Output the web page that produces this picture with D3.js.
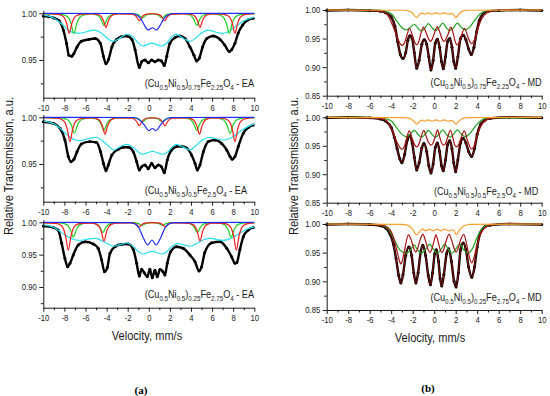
<!DOCTYPE html>
<html>
<head>
<meta charset="utf-8">
<script src="https://cdn.jsdelivr.net/npm/d3@7"></script>
<style>
  body { margin: 0; background: #fff; }
  svg { display: block; }
  .axis path, .axis line { stroke: #1a1a1a; stroke-width: 1; }
  .axis text { fill: #1a1a1a; }
</style>
</head>
<body>
<svg id="chart" width="550" height="396"></svg>
<script>
// ---- tick values ----
const velocityTicks = [-10, -9, -8, -7, -6, -5, -4, -3, -2, -1, 0, 1, 2, 3, 4, 5, 6, 7, 8, 9, 10];
const yTicksEA = [0.925, 0.95, 0.975, 1.0];
const yTicksEA25 = [0.875, 0.9, 0.925, 0.95, 0.975, 1.0];
const yTicksMD = [0.85, 0.875, 0.9, 0.925, 0.95, 0.975, 1.0];

// ---- sample labels (text, subscript?) ----
const labelEA075 = [["(Cu",0],["0.5",1],["Ni",0],["0.5",1],[")",0],["0.75",1],["Fe",0],["2.25",1],["O",0],["4",1],[" - EA",0]];
const labelEA050 = [["(Cu",0],["0.5",1],["Ni",0],["0.5",1],[")",0],["0.5",1],["Fe",0],["2.5",1],["O",0],["4",1],[" - EA",0]];
const labelEA025 = [["(Cu",0],["0.5",1],["Ni",0],["0.5",1],[")",0],["0.25",1],["Fe",0],["2.75",1],["O",0],["4",1],[" - EA",0]];
const labelMD075 = [["(Cu",0],["0.5",1],["Ni",0],["0.5",1],[")",0],["0.75",1],["Fe",0],["2.25",1],["O",0],["4",1],[" - MD",0]];
const labelMD050 = [["(Cu",0],["0.5",1],["Ni",0],["0.5",1],[")",0],["0.5",1],["Fe",0],["2.5",1],["O",0],["4",1],[" - MD",0]];
const labelMD025 = [["(Cu",0],["0.5",1],["Ni",0],["0.5",1],[")",0],["0.25",1],["Fe",0],["2.75",1],["O",0],["4",1],[" - MD",0]];

// ---- (a) EA, x = 0.75 ----
const ea075Data = [[-10,0.997],[-9.5,0.9964],[-9,0.995],[-8.5,0.992],[-8.1,0.982],[-7.8,0.968],[-7.57,0.955],[-7.3,0.954],[-7.1,0.957],[-6.8,0.964],[-6.4,0.970],[-5.7,0.972],[-5.1,0.973],[-4.6,0.968],[-4.3,0.954],[-4.06,0.946],[-3.8,0.951],[-3.5,0.964],[-3.05,0.972],[-2.6,0.975],[-2.1,0.9757],[-1.6,0.972],[-1.3,0.961],[-0.9,0.942],[-0.68,0.948],[-0.36,0.950],[-0.05,0.947],[0.27,0.950],[0.58,0.948],[0.9,0.950],[1.2,0.949],[1.47,0.944],[1.7,0.954],[2.0,0.968],[2.5,0.974],[2.95,0.9757],[3.43,0.973],[3.9,0.964],[4.28,0.955],[4.53,0.949],[4.79,0.952],[5.1,0.964],[5.5,0.973],[6.1,0.9757],[6.75,0.972],[7.2,0.966],[7.63,0.959],[7.85,0.961],[8.17,0.968],[8.48,0.979],[8.9,0.9875],[9.43,0.993],[9.9,0.9946]];
const ea075Cyan = [[-10,0.998],[-9,0.995],[-8.5,0.991],[-8,0.986],[-7.5,0.981],[-7,0.979],[-6.6,0.9786],[-6,0.980],[-5.2,0.982],[-4.5,0.979],[-3.9,0.973],[-3.4,0.970],[-2.8,0.973],[-2.1,0.9775],[-1.5,0.975],[-1.0,0.968],[-0.6,0.965],[0.3,0.968],[1.2,0.965],[1.7,0.968],[2.2,0.975],[2.6,0.9775],[3.3,0.973],[3.9,0.970],[4.5,0.974],[5.0,0.979],[5.6,0.982],[6.3,0.980],[6.9,0.9786],[7.5,0.980],[8,0.984],[8.5,0.988],[9,0.992],[9.5,0.994],[10,0.996]];
const ea075Red = [[-10,0.9997],[-8.74,0.9991],[-8.24,0.9976],[-7.99,0.9949],[-7.79,0.9893],[-7.54,0.9786],[-7.29,0.9893],[-7.09,0.9949],[-6.84,0.9976],[-6.34,0.9991],[-5.26,0.9994],[-4.76,0.9984],[-4.51,0.9964],[-4.31,0.9925],[-4.06,0.985],[-3.81,0.9925],[-3.61,0.9964],[-3.36,0.9984],[-2.86,0.9994],[-1.6,0.9991],[-1.35,0.9981],[-1.15,0.996],[-0.9,0.992],[-0.65,0.996],[-0.45,0.9981],[-0.2,0.9991],[0.3,0.9995],[0.8,0.9991],[1.05,0.9981],[1.25,0.996],[1.5,0.992],[1.75,0.996],[1.95,0.9981],[2.2,0.9991],[3.65,0.9994],[4.15,0.9984],[4.4,0.9964],[4.6,0.9925],[4.85,0.985],[5.1,0.9925],[5.3,0.9964],[5.55,0.9984],[6.05,0.9994],[6.97,0.9991],[7.47,0.9976],[7.72,0.9949],[7.92,0.9893],[8.17,0.9786],[8.42,0.9893],[8.62,0.9949],[8.87,0.9976],[9.37,0.9991],[10,0.9996]];
const ea075Green = [[-10,0.9997],[-8.4,0.9991],[-7.9,0.9976],[-7.6,0.9949],[-7.38,0.9893],[-7.1,0.9786],[-6.82,0.9893],[-6.6,0.9949],[-6.3,0.9976],[-5.8,0.9991],[-5.55,0.9995],[-5.05,0.9986],[-4.75,0.9969],[-4.53,0.9935],[-4.25,0.987],[-3.97,0.9935],[-3.75,0.9969],[-3.45,0.9986],[-2.95,0.9995],[-1.4,0.9994],[-1.1,0.9988],[-0.88,0.9975],[-0.6,0.995],[-0.32,0.9975],[-0.1,0.9988],[0.33,0.9993],[0.75,0.9988],[0.97,0.9975],[1.25,0.995],[1.53,0.9975],[1.75,0.9988],[2.05,0.9994],[3.25,0.9995],[3.75,0.9986],[4.05,0.9969],[4.27,0.9935],[4.55,0.987],[4.83,0.9935],[5.05,0.9969],[5.35,0.9986],[5.85,0.9995],[6.33,0.9991],[6.83,0.9976],[7.13,0.9949],[7.35,0.9893],[7.63,0.9786],[7.91,0.9893],[8.13,0.9949],[8.43,0.9976],[8.93,0.9991],[10,0.9996]];
const ea075Blue = [[-10,1],[-1.6,0.9998],[-1.1,0.998],[-0.75,0.994],[-0.4,0.987],[-0.05,0.9822],[0.35,0.9845],[0.72,0.9822],[1.07,0.987],[1.42,0.994],[1.77,0.998],[2.3,0.9998],[10,1]];

// ---- (a) EA, x = 0.5 ----
const ea050Data = [[-10,0.9953],[-9.05,0.9935],[-8.4,0.988],[-7.95,0.9757],[-7.63,0.958],[-7.38,0.9525],[-7.1,0.955],[-6.8,0.963],[-6.4,0.9714],[-5.6,0.974],[-4.95,0.973],[-4.57,0.963],[-4.3,0.9507],[-4.06,0.9428],[-3.84,0.949],[-3.5,0.9596],[-2.9,0.9657],[-2.4,0.9679],[-1.94,0.968],[-1.47,0.963],[-1.15,0.9525],[-0.9,0.9436],[-0.68,0.947],[-0.36,0.9489],[-0.05,0.945],[0.27,0.9507],[0.58,0.946],[0.9,0.9489],[1.2,0.947],[1.47,0.9407],[1.75,0.9543],[2.16,0.965],[2.64,0.9686],[3.1,0.969],[3.6,0.967],[4.05,0.9596],[4.38,0.9507],[4.6,0.9436],[4.85,0.949],[5.17,0.963],[5.64,0.974],[6.27,0.9757],[6.9,0.972],[7.38,0.965],[7.7,0.958],[7.9,0.955],[8.17,0.958],[8.48,0.9686],[8.96,0.9829],[9.43,0.989],[9.9,0.9918]];
const ea050Cyan = [[-10,0.996],[-9,0.993],[-8.5,0.989],[-8,0.984],[-7.5,0.979],[-7,0.976],[-6.5,0.975],[-5.8,0.977],[-5.0,0.9786],[-4.4,0.975],[-3.8,0.969],[-3.3,0.965],[-2.8,0.968],[-2.1,0.971],[-1.5,0.968],[-0.9,0.962],[-0.6,0.9604],[0.35,0.9636],[1.3,0.9604],[1.7,0.962],[2.2,0.968],[2.6,0.971],[3.3,0.968],[3.9,0.965],[4.5,0.970],[5.1,0.976],[5.8,0.9786],[6.4,0.977],[7.0,0.9757],[7.6,0.977],[8.2,0.981],[8.8,0.986],[9.4,0.990],[10,0.993]];
const ea050Red = [[-10,0.9996],[-8.67,0.999],[-8.17,0.9971],[-7.92,0.9938],[-7.72,0.987],[-7.47,0.974],[-7.22,0.987],[-7.02,0.9938],[-6.77,0.9971],[-6.27,0.999],[-5.35,0.9993],[-4.85,0.998],[-4.6,0.9957],[-4.4,0.991],[-4.15,0.982],[-3.9,0.991],[-3.7,0.9957],[-3.45,0.998],[-2.95,0.9993],[-1.6,0.999],[-1.35,0.9978],[-1.15,0.9955],[-0.9,0.991],[-0.65,0.9955],[-0.45,0.9978],[-0.2,0.999],[0.32,0.9994],[0.83,0.999],[1.08,0.9978],[1.28,0.9955],[1.53,0.991],[1.78,0.9955],[1.98,0.9978],[2.23,0.999],[3.6,0.9993],[4.1,0.998],[4.35,0.9957],[4.55,0.991],[4.8,0.982],[5.05,0.991],[5.25,0.9957],[5.5,0.998],[6.0,0.9993],[6.97,0.999],[7.47,0.9971],[7.72,0.9938],[7.92,0.987],[8.17,0.974],[8.42,0.987],[8.62,0.9938],[8.87,0.9971],[9.37,0.999],[10,0.9995]];
const ea050Green = [[-10,0.9997],[-8.35,0.9993],[-7.85,0.9981],[-7.55,0.9959],[-7.33,0.9915],[-7.05,0.983],[-6.77,0.9915],[-6.55,0.9959],[-6.25,0.9981],[-5.75,0.9993],[-5.55,0.9994],[-5.05,0.9985],[-4.75,0.9966],[-4.53,0.993],[-4.25,0.986],[-3.97,0.993],[-3.75,0.9966],[-3.45,0.9985],[-2.95,0.9994],[-1.4,0.9994],[-1.1,0.9988],[-0.88,0.9975],[-0.6,0.995],[-0.32,0.9975],[-0.1,0.9988],[0.33,0.9993],[0.75,0.9988],[0.97,0.9975],[1.25,0.995],[1.53,0.9975],[1.75,0.9988],[2.05,0.9994],[3.25,0.9994],[3.75,0.9985],[4.05,0.9966],[4.27,0.993],[4.55,0.986],[4.83,0.993],[5.05,0.9966],[5.35,0.9985],[5.85,0.9994],[6.4,0.9993],[6.9,0.9981],[7.2,0.9959],[7.42,0.9915],[7.7,0.983],[7.98,0.9915],[8.2,0.9959],[8.5,0.9981],[9.0,0.9993],[10,0.9997]];
const ea050Blue = [[-10,1],[-1.5,0.9998],[-1.05,0.9985],[-0.7,0.9955],[-0.35,0.9905],[0.0,0.9857],[0.34,0.988],[0.68,0.9857],[1.03,0.9905],[1.38,0.9955],[1.73,0.9985],[2.2,0.9998],[10,1]];

// ---- (a) EA, x = 0.25 ----
const ea025Data = [[-10,0.9943],[-9.05,0.992],[-8.6,0.988],[-8.26,0.9675],[-7.95,0.944],[-7.7,0.9314],[-7.47,0.9366],[-7.16,0.9495],[-6.68,0.965],[-6.05,0.970],[-5.26,0.9665],[-4.8,0.9598],[-4.47,0.9417],[-4.2,0.9236],[-3.93,0.930],[-3.68,0.952],[-3.2,0.9623],[-2.57,0.966],[-1.94,0.9665],[-1.47,0.958],[-1.15,0.9366],[-0.9,0.917],[-0.68,0.9274],[-0.43,0.922],[-0.14,0.916],[0.1,0.9274],[0.33,0.9144],[0.58,0.926],[0.8,0.916],[1.06,0.927],[1.31,0.9245],[1.53,0.9186],[1.75,0.9366],[2.07,0.9546],[2.64,0.9623],[3.27,0.9598],[3.9,0.9495],[4.38,0.939],[4.76,0.9247],[5.0,0.931],[5.3,0.953],[5.96,0.9683],[6.75,0.970],[7.38,0.960],[7.85,0.9468],[8.17,0.9366],[8.35,0.938],[8.64,0.958],[8.96,0.9778],[9.43,0.988],[9.9,0.992]];
const ea025Cyan = [[-10,0.996],[-9,0.992],[-8.5,0.987],[-8,0.981],[-7.5,0.976],[-7,0.973],[-6.5,0.972],[-5.8,0.974],[-5.0,0.975],[-4.4,0.971],[-3.8,0.966],[-3.3,0.963],[-2.8,0.965],[-2.1,0.968],[-1.5,0.963],[-1.0,0.955],[-0.6,0.951],[0.35,0.955],[1.3,0.951],[1.7,0.955],[2.3,0.964],[2.7,0.967],[3.3,0.965],[3.9,0.963],[4.5,0.967],[5.2,0.973],[5.9,0.975],[6.5,0.973],[7.0,0.972],[7.6,0.974],[8.2,0.979],[8.8,0.985],[9.4,0.990],[10,0.993]];
const ea025Red = [[-10,0.9992],[-8.83,0.9983],[-8.33,0.9953],[-8.08,0.9897],[-7.88,0.9785],[-7.63,0.957],[-7.38,0.9785],[-7.18,0.9897],[-6.93,0.9953],[-6.43,0.9983],[-5.45,0.9988],[-4.95,0.9968],[-4.7,0.993],[-4.5,0.9855],[-4.25,0.971],[-4.0,0.9855],[-3.8,0.993],[-3.55,0.9968],[-3.05,0.9988],[-1.6,0.9992],[-1.35,0.9983],[-1.15,0.9965],[-0.9,0.993],[-0.65,0.9965],[-0.45,0.9983],[-0.2,0.9992],[0.32,0.9995],[0.85,0.9992],[1.1,0.9983],[1.3,0.9965],[1.55,0.993],[1.8,0.9965],[2.0,0.9983],[2.25,0.9992],[3.65,0.9988],[4.15,0.9968],[4.4,0.993],[4.6,0.9855],[4.85,0.971],[5.1,0.9855],[5.3,0.993],[5.55,0.9968],[6.05,0.9988],[7.1,0.9983],[7.6,0.9953],[7.85,0.9897],[8.05,0.9785],[8.3,0.957],[8.55,0.9785],[8.75,0.9897],[9.0,0.9953],[9.5,0.9983],[10,0.999]];
const ea025Green = [[-10,0.9996],[-8.45,0.9991],[-7.95,0.9975],[-7.65,0.9945],[-7.43,0.9885],[-7.15,0.977],[-6.87,0.9885],[-6.65,0.9945],[-6.35,0.9975],[-5.85,0.9991],[-5.65,0.9994],[-5.15,0.9982],[-4.85,0.9962],[-4.63,0.992],[-4.35,0.984],[-4.07,0.992],[-3.85,0.9962],[-3.55,0.9982],[-3.05,0.9994],[-1.45,0.9994],[-1.15,0.9988],[-0.93,0.9975],[-0.65,0.995],[-0.37,0.9975],[-0.15,0.9988],[0.33,0.9993],[0.8,0.9988],[1.02,0.9975],[1.3,0.995],[1.58,0.9975],[1.8,0.9988],[2.1,0.9994],[3.3,0.9994],[3.8,0.9982],[4.1,0.9962],[4.32,0.992],[4.6,0.984],[4.88,0.992],[5.1,0.9962],[5.4,0.9982],[5.9,0.9994],[6.5,0.9991],[7.0,0.9975],[7.3,0.9945],[7.52,0.9885],[7.8,0.977],[8.08,0.9885],[8.3,0.9945],[8.6,0.9975],[9.1,0.9991],[10,0.9996]];
const ea025Blue = [[-10,1],[-1.7,0.9995],[-1.25,0.997],[-0.9,0.99],[-0.55,0.977],[-0.1,0.965],[0.3,0.9726],[0.7,0.965],[1.15,0.977],[1.5,0.99],[1.85,0.997],[2.3,0.9995],[10,1]];

// ---- (b) MD, x = 0.75 ----
const md075Data = [[-10,0.999],[-8,1.0],[-6,0.999],[-5,0.998],[-4.5,0.995],[-4.0,0.988],[-3.65,0.971],[-3.4,0.945],[-3.15,0.922],[-2.9,0.915],[-2.65,0.925],[-2.45,0.947],[-2.25,0.955],[-2.05,0.950],[-1.85,0.925],[-1.63,0.898],[-1.4,0.912],[-1.15,0.940],[-0.92,0.948],[-0.7,0.940],[-0.5,0.918],[-0.3,0.895],[-0.1,0.912],[0.1,0.942],[0.3,0.949],[0.5,0.935],[0.68,0.910],[0.85,0.897],[1.05,0.918],[1.25,0.945],[1.45,0.950],[1.65,0.935],[1.82,0.910],[2.0,0.898],[2.2,0.918],[2.45,0.950],[2.7,0.956],[2.95,0.948],[3.2,0.932],[3.45,0.922],[3.7,0.935],[3.95,0.962],[4.2,0.982],[4.6,0.994],[5.0,0.998],[6,0.999],[8,1.0],[10,0.999]];
const md075DarkRed = [[-10,1],[-5.5,0.999],[-4.6,0.996],[-4.2,0.987],[-3.8,0.970],[-3.5,0.955],[-3.2,0.942],[-2.95,0.938],[-2.78,0.942],[-2.55,0.955],[-2.3,0.968],[-2.05,0.957],[-1.8,0.943],[-1.63,0.939],[-1.46,0.943],[-1.25,0.958],[-1.0,0.970],[-0.75,0.960],[-0.52,0.949],[-0.35,0.945],[-0.18,0.949],[0.05,0.961],[0.28,0.971],[0.52,0.961],[0.75,0.949],[0.92,0.945],[1.09,0.949],[1.32,0.959],[1.55,0.970],[1.8,0.957],[1.98,0.943],[2.15,0.939],[2.32,0.943],[2.55,0.956],[2.83,0.968],[3.1,0.955],[3.33,0.944],[3.5,0.941],[3.67,0.945],[3.95,0.960],[4.3,0.980],[4.7,0.992],[5.3,0.998],[6.5,1],[10,1]];
const md075Green = [[-10,1],[-5,0.9995],[-4.4,0.997],[-3.96,0.993],[-3.5,0.981],[-3.0,0.969],[-2.6,0.965],[-2.2,0.970],[-1.85,0.975],[-1.5,0.968],[-1.18,0.963],[-0.85,0.969],[-0.55,0.976],[-0.2,0.969],[0.12,0.964],[0.45,0.969],[0.8,0.977],[1.12,0.969],[1.45,0.964],[1.8,0.969],[2.15,0.977],[2.5,0.970],[2.9,0.965],[3.3,0.970],[3.7,0.980],[4.1,0.990],[4.5,0.996],[5.0,0.999],[10,1]];
const md075Orange = [[-10,1],[-2.8,0.9995],[-2.3,0.998],[-1.95,0.9935],[-1.63,0.9866],[-1.35,0.9925],[-1.1,0.9945],[-0.85,0.9925],[-0.55,0.995],[-0.2,0.9925],[0.15,0.995],[0.55,0.9925],[0.9,0.995],[1.3,0.9925],[1.6,0.994],[1.8,0.992],[2.0,0.9866],[2.3,0.993],[2.65,0.998],[3.1,0.9995],[10,1]];

// ---- (b) MD, x = 0.5 ----
const md050Data = [[-10,0.999],[-8,1.0],[-6,0.999],[-5,0.997],[-4.5,0.993],[-4.0,0.982],[-3.7,0.965],[-3.45,0.945],[-3.2,0.927],[-3.0,0.920],[-2.75,0.935],[-2.5,0.960],[-2.28,0.968],[-2.05,0.955],[-1.85,0.930],[-1.63,0.9075],[-1.4,0.920],[-1.15,0.946],[-0.95,0.954],[-0.7,0.940],[-0.5,0.915],[-0.3,0.902],[-0.1,0.918],[0.1,0.947],[0.3,0.955],[0.5,0.940],[0.68,0.915],[0.85,0.906],[1.05,0.925],[1.25,0.952],[1.45,0.959],[1.65,0.945],[1.82,0.920],[2.0,0.9045],[2.2,0.925],[2.45,0.955],[2.7,0.963],[2.95,0.955],[3.2,0.940],[3.49,0.931],[3.75,0.945],[4.0,0.970],[4.3,0.987],[4.7,0.995],[5.2,0.998],[7,1.0],[10,0.999]];
const md050DarkRed = [[-10,1],[-5.5,0.999],[-4.6,0.996],[-4.2,0.988],[-3.8,0.972],[-3.5,0.958],[-3.2,0.947],[-3.0,0.944],[-2.8,0.948],[-2.58,0.962],[-2.32,0.976],[-2.05,0.963],[-1.8,0.951],[-1.63,0.948],[-1.46,0.951],[-1.22,0.965],[-0.97,0.977],[-0.72,0.965],[-0.47,0.954],[-0.3,0.951],[-0.13,0.954],[0.1,0.966],[0.3,0.978],[0.5,0.966],[0.71,0.954],[0.88,0.951],[1.05,0.954],[1.27,0.966],[1.5,0.977],[1.75,0.963],[1.91,0.951],[2.08,0.948],[2.25,0.951],[2.5,0.964],[2.8,0.976],[3.05,0.962],[3.3,0.949],[3.5,0.944],[3.7,0.949],[3.95,0.965],[4.3,0.983],[4.7,0.993],[5.3,0.998],[6.5,1],[10,1]];
const md050Green = [[-10,1],[-5,0.9995],[-4.4,0.997],[-3.96,0.993],[-3.5,0.982],[-3.0,0.970],[-2.6,0.966],[-2.2,0.971],[-1.85,0.977],[-1.5,0.970],[-1.18,0.965],[-0.85,0.970],[-0.55,0.977],[-0.2,0.970],[0.12,0.965],[0.45,0.970],[0.8,0.978],[1.12,0.970],[1.45,0.965],[1.8,0.970],[2.15,0.978],[2.5,0.971],[2.9,0.966],[3.3,0.971],[3.7,0.981],[4.1,0.990],[4.5,0.996],[5.0,0.999],[10,1]];
const md050Orange = [[-10,1],[-2.8,0.9995],[-2.3,0.998],[-1.95,0.994],[-1.63,0.988],[-1.35,0.993],[-1.1,0.995],[-0.85,0.993],[-0.55,0.9955],[-0.2,0.993],[0.15,0.9955],[0.55,0.993],[0.9,0.9955],[1.3,0.993],[1.6,0.9945],[1.8,0.9925],[2.0,0.988],[2.3,0.9935],[2.65,0.998],[3.1,0.9995],[10,1]];

// ---- (b) MD, x = 0.25 ----
const md025Data = [[-10,0.999],[-8,1.0],[-6,0.999],[-5,0.997],[-4.5,0.993],[-4.1,0.982],[-3.8,0.965],[-3.55,0.940],[-3.3,0.910],[-3.1,0.897],[-2.9,0.912],[-2.65,0.945],[-2.35,0.960],[-2.1,0.945],[-1.9,0.915],[-1.7,0.897],[-1.5,0.915],[-1.25,0.952],[-1.05,0.963],[-0.8,0.945],[-0.55,0.910],[-0.35,0.894],[-0.15,0.915],[0.05,0.948],[0.2,0.955],[0.4,0.935],[0.55,0.905],[0.7,0.892],[0.9,0.912],[1.15,0.948],[1.35,0.957],[1.6,0.935],[1.85,0.900],[2.04,0.890],[2.25,0.915],[2.45,0.955],[2.7,0.967],[2.95,0.955],[3.2,0.925],[3.5,0.907],[3.75,0.925],[4.0,0.960],[4.3,0.985],[4.7,0.995],[5.2,0.998],[7,1.0],[10,0.999]];
const md025DarkRed = [[-10,1],[-5.5,0.999],[-4.6,0.997],[-4.1,0.99],[-3.75,0.975],[-3.45,0.952],[-3.25,0.937],[-3.1,0.930],[-2.95,0.937],[-2.72,0.958],[-2.4,0.981],[-2.1,0.970],[-1.88,0.956],[-1.72,0.951],[-1.56,0.956],[-1.32,0.972],[-1.05,0.982],[-0.78,0.969],[-0.56,0.955],[-0.4,0.950],[-0.24,0.955],[-0.02,0.970],[0.16,0.981],[0.36,0.969],[0.56,0.955],[0.72,0.950],[0.88,0.955],[1.1,0.970],[1.38,0.982],[1.66,0.969],[1.88,0.956],[2.04,0.951],[2.2,0.956],[2.45,0.972],[2.75,0.982],[3.05,0.962],[3.3,0.940],[3.5,0.932],[3.68,0.940],[3.95,0.960],[4.3,0.982],[4.7,0.993],[5.3,0.998],[6.5,1],[10,1]];
const md025Green = [[-10,1],[-5.2,0.999],[-4.6,0.996],[-4.15,0.989],[-3.7,0.972],[-3.2,0.955],[-2.62,0.949],[-2.15,0.956],[-1.9,0.964],[-1.55,0.955],[-1.16,0.949],[-0.78,0.956],[-0.43,0.965],[-0.07,0.956],[0.3,0.949],[0.65,0.956],[0.97,0.965],[1.3,0.956],[1.64,0.949],[2.0,0.956],[2.38,0.965],[2.75,0.955],[3.13,0.949],[3.55,0.957],[3.95,0.975],[4.35,0.990],[4.8,0.997],[5.3,0.999],[10,1]];
const md025Orange = [[-10,1],[-3.0,0.9995],[-2.5,0.998],[-2.05,0.992],[-1.65,0.981],[-1.3,0.988],[-1.05,0.991],[-0.8,0.988],[-0.45,0.991],[-0.1,0.988],[0.25,0.991],[0.6,0.988],[0.95,0.991],[1.35,0.988],[1.65,0.99],[1.85,0.988],[2.05,0.981],[2.4,0.991],[2.8,0.997],[3.3,0.9995],[10,1]];

// ---- colours / fonts ----
const FONT = '"Liberation Sans", Arial, sans-serif';
const SX = 0.83; // the original lettering is condensed
const cCyan = "#25dff0", cRed = "#f01c1c", cGreen = "#1fd01f", cBlue = "#1e2cf2";
const cOrange = "#f8a030", cGreenDk = "#22a022", cDarkRed = "#a51414";

const svg = d3.select("#chart").style("font-family", FONT);

const panels = [
  {data: ea075Data, fits: [[ea075Cyan, cCyan], [ea075Green, cGreen], [ea075Red, cRed], [ea075Blue, cBlue]],
   xr: [43.3, 254.3], yd: [0.9096, 1.003], yr: [97.7, 10.5], yTicks: yTicksEA, label: labelEA075, lx: 254, ly: 87.3, total: false},
  {data: ea050Data, fits: [[ea050Cyan, cCyan], [ea050Green, cGreen], [ea050Red, cRed], [ea050Blue, cBlue]],
   xr: [43.3, 254.3], yd: [0.9096, 1.003], yr: [201.7, 114.5], yTicks: yTicksEA, label: labelEA050, lx: 247, ly: 194, total: false},
  {data: ea025Data, fits: [[ea025Cyan, cCyan], [ea025Green, cGreen], [ea025Red, cRed], [ea025Blue, cBlue]],
   xr: [43.3, 254.3], yd: [0.868, 1.004], yr: [307.7, 219.7], yTicks: yTicksEA25, label: labelEA025, lx: 254, ly: 298, total: false},
  {data: md075Data, fits: [[md075Green, cGreenDk], [md075DarkRed, cDarkRed], [md075Orange, cOrange]],
   xr: [326.7, 541.7], yd: [0.85, 1.004], yr: [95.7, 7.7], yTicks: yTicksMD, label: labelMD075, lx: 541.7, ly: 86, total: true},
  {data: md050Data, fits: [[md050Green, cGreenDk], [md050DarkRed, cDarkRed], [md050Orange, cOrange]],
   xr: [326.7, 541.7], yd: [0.85, 1.004], yr: [202.7, 115], yTicks: yTicksMD, label: labelMD050, lx: 538.3, ly: 195, total: true},
  {data: md025Data, fits: [[md025Green, cGreenDk], [md025DarkRed, cDarkRed], [md025Orange, cOrange]],
   xr: [326.7, 541.7], yd: [0.85, 1.004], yr: [310, 221.7], yTicks: yTicksMD, label: labelMD025, lx: 541.7, ly: 301, total: true}
];

panels.forEach(drawPanel);

function isMajor(v, step) {
  const k = v / step;
  return Math.abs(k - Math.round(k)) < 1e-6;
}

function drawPanel(p) {
  const x = d3.scaleLinear().domain([-10, 10]).range(p.xr);
  const y = d3.scaleLinear().domain(p.yd).range(p.yr);
  const line = d3.line()
      .x(d => x(d[0]))
      .y(d => y(d[1]))
      .curve(d3.curveMonotoneX);

  const g = svg.append("g");

  // experimental points
  g.append("path")
    .attr("d", line(p.data))
    .attr("fill", "none")
    .attr("stroke", "#000")
    .attr("stroke-width", 2.4)
    .attr("stroke-linejoin", "round");
  g.selectAll("circle.pt").data(p.data).enter().append("circle")
    .attr("class", "pt")
    .attr("cx", d => x(d[0]))
    .attr("cy", d => y(d[1]))
    .attr("r", 1.5)
    .attr("fill", "#000");

  if (p.total) {
    g.append("path")
      .attr("d", line(p.data))
      .attr("fill", "none")
      .attr("stroke", "#c01010")
      .attr("stroke-width", 0.7);
  }

  // fitted components
  p.fits.forEach(f => {
    g.append("path")
      .attr("d", line(f[0]))
      .attr("fill", "none")
      .attr("stroke", f[1])
      .attr("stroke-width", 1.2);
  });

  // axes
  const xAxis = d3.axisBottom(x)
      .tickValues(velocityTicks)
      .tickFormat(d => isMajor(d, 2) ? d : "")
      .tickSize(4)
      .tickSizeOuter(0)
      .tickPadding(2.5);
  const gx = svg.append("g")
      .attr("class", "axis")
      .attr("transform", "translate(0," + p.yr[0] + ")")
      .call(xAxis);
  gx.selectAll(".tick").filter(d => !isMajor(d, 2)).select("line").attr("y2", 2.5);
  gx.selectAll("text")
    .style("font-size", "9.3px")
    .attr("transform", "scale(" + SX + ",1)");

  const yAxis = d3.axisLeft(y)
      .tickValues(p.yTicks)
      .tickFormat(d => isMajor(d, 0.05) ? d3.format(".2f")(d) : "")
      .tickSize(4)
      .tickSizeOuter(0)
      .tickPadding(2);
  const gy = svg.append("g")
      .attr("class", "axis")
      .attr("transform", "translate(" + p.xr[0] + ",0)")
      .call(yAxis);
  gy.selectAll(".tick").filter(d => !isMajor(d, 0.05)).select("line").attr("x2", -2.5);
  gy.selectAll("text")
    .style("font-size", "9.3px")
    .attr("x", -6.5 / SX)
    .attr("transform", "scale(" + SX + ",1)");

  // sample label with subscripts
  const t = svg.append("text")
      .attr("transform", "translate(" + p.lx + "," + p.ly + ") scale(" + SX + ",1)")
      .attr("text-anchor", "end")
      .attr("fill", "#1a1a1a")
      .style("font-size", "11px");
  let shift = 0;
  p.label.forEach(part => {
    const s = part[1] ? 2.6 : 0;
    t.append("tspan")
      .attr("dy", s - shift)
      .style("font-size", part[1] ? "7.5px" : "11px")
      .text(part[0]);
    shift = s;
  });
}

// axis titles
const titles = [
  {text: "Velocity, mm/s", x: 147, y: 339.5, rot: 0},
  {text: "Velocity, mm/s", x: 430, y: 342, rot: 0},
  {text: "Relative Transsmission, a.u.", x: 8.5, y: 166, rot: -90},
  {text: "Relative Transsmission, a.u.", x: 293, y: 166, rot: -90}
];
titles.forEach(d => {
  svg.append("text")
    .attr("transform", "translate(" + d.x + "," + d.y + ") rotate(" + d.rot + ") scale(0.85,1)")
    .attr("dy", d.rot ? "0.35em" : 0)
    .attr("text-anchor", "middle")
    .attr("fill", "#1a1a1a")
    .style("font-size", "13px")
    .text(d.text);
});

// sub-figure letters
[["(a)", 141, 393.5], ["(b)", 428, 391.5]].forEach(d => {
  svg.append("text")
    .attr("x", d[1])
    .attr("y", d[2])
    .attr("text-anchor", "middle")
    .style("font-family", '"Liberation Serif", "Times New Roman", serif')
    .style("font-weight", "bold")
    .style("font-size", "11px")
    .text(d[0]);
});
</script>
</body>
</html>
